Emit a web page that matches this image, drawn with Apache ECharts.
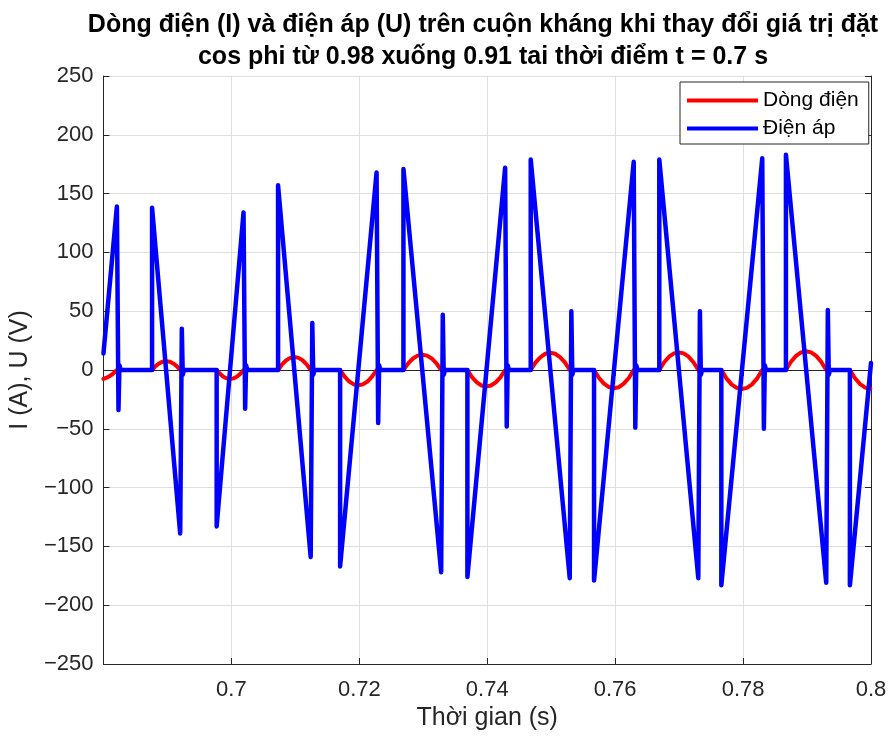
<!DOCTYPE html>
<html>
<head>
<meta charset="utf-8">
<script src="https://cdn.jsdelivr.net/npm/echarts@6/dist/echarts.min.js"></script>
<style>
  html, body { margin: 0; padding: 0; background: #ffffff; }
  #chart { width: 891px; height: 738px; }
</style>
</head>
<body>
<div id="chart"></div>
<script>
// Voltage across the reactor (V): time stamps (s) and values
const voltageT = [
  0.6800, 0.6821, 0.68235, 0.6825, 0.6827,
  0.6876, 0.6876, 0.6920, 0.69225, 0.6924, 0.6926,
  0.6977, 0.6977, 0.7019, 0.70215, 0.7023, 0.7025,
  0.7073, 0.7073, 0.7124, 0.71265, 0.7128, 0.7130,
  0.7170, 0.7170, 0.7227, 0.72295, 0.7231, 0.7233,
  0.7269, 0.7269, 0.7328, 0.73305, 0.7332, 0.7334,
  0.7369, 0.7369, 0.7428, 0.74305, 0.7432, 0.7434,
  0.7468, 0.7468, 0.7529, 0.75315, 0.7533, 0.7535,
  0.7567, 0.7567, 0.7629, 0.76315, 0.7633, 0.7635,
  0.7669, 0.7669, 0.7730, 0.77325, 0.7734, 0.7736,
  0.7766, 0.7766, 0.7830, 0.78325, 0.7834, 0.7836,
  0.7867, 0.7867, 0.7930, 0.79325, 0.7934, 0.7936,
  0.7967, 0.7967, 0.8000
];
const voltageV = [
  14, 139, -34, 4, 0,
  0, 138, -139, 35, -4, 0,
  0, -133, 134, -33, 4, 0,
  0, 157, -159, 40, -4, 0,
  0, -167, 168, -45, 4, 0,
  0, 171, -172, 47, -4, 0,
  0, -176, 172, -48, 4, 0,
  0, 179, -177, 50, -4, 0,
  0, -179, 177, -49, 4, 0,
  0, 179, -177, 50, -4, 0,
  0, -183, 180, -50, 4, 0,
  0, 183, -181, 51, -4, 0,
  0, -183, 6
];

// Reactor current (A): time stamps (s) and values, one arch per conduction interval
const currentT = [
  0.6800, 0.6807, 0.6814, 0.6821,
  0.6876, 0.68815, 0.6887, 0.68925, 0.6898, 0.69035, 0.6909, 0.69145, 0.6920,
  0.6977, 0.69823, 0.69875, 0.69928, 0.6998, 0.70033, 0.70085, 0.70138, 0.7019,
  0.7073, 0.70794, 0.70858, 0.70921, 0.70985, 0.71049, 0.71113, 0.71176, 0.7124,
  0.7170, 0.71771, 0.71843, 0.71914, 0.71985, 0.72056, 0.72128, 0.72199, 0.7227,
  0.7269, 0.72764, 0.72838, 0.72911, 0.72985, 0.73059, 0.73133, 0.73206, 0.7328,
  0.7369, 0.73764, 0.73838, 0.73911, 0.73985, 0.74059, 0.74133, 0.74206, 0.7428,
  0.7468, 0.74756, 0.74833, 0.74909, 0.74985, 0.75061, 0.75138, 0.75214, 0.7529,
  0.7567, 0.75748, 0.75825, 0.75903, 0.7598, 0.76058, 0.76135, 0.76213, 0.7629,
  0.7669, 0.76766, 0.76843, 0.76919, 0.76995, 0.77071, 0.77148, 0.77224, 0.7730,
  0.7766, 0.7774, 0.7782, 0.7790, 0.7798, 0.7806, 0.7814, 0.7822, 0.7830,
  0.7867, 0.78749, 0.78828, 0.78906, 0.78985, 0.79064, 0.79143, 0.79221, 0.7930,
  0.7967, 0.7975, 0.7983, 0.7991, 0.7999, 0.8000
];
const currentV = [
  -7.6, -6.1, -3.6, 0,
  0, 3.3, 5.6, 7.1, 7.5, 7.1, 5.6, 3.3, 0,
  0, -3.3, -5.7, -7.1, -7.6, -7.1, -5.7, -3.3, 0,
  0, 4.8, 8.3, 10.3, 11, 10.3, 8.3, 4.8, 0,
  0, -5.7, -9.8, -12.2, -13, -12.2, -9.8, -5.7, 0,
  0, 5.7, 9.8, 12.2, 13, 12.2, 9.8, 5.7, 0,
  0, -6.2, -10.5, -13.2, -14, -13.2, -10.5, -6.2, 0,
  0, 6.5, 11, 13.8, 14.7, 13.8, 11, 6.5, 0,
  0, -6.8, -11.6, -14.6, -15.5, -14.6, -11.6, -6.8, 0,
  0, 6.6, 11.3, 14.1, 15, 14.1, 11.3, 6.6, 0,
  0, -7.1, -12.2, -15.2, -16.2, -15.2, -12.2, -7.1, 0,
  0, 7, 12, 15, 16, 15, 12, 7, 0,
  0, -7, -12, -15, -16, -16
];

// Axis settings
const xMin = 0.68, xMax = 0.8, xStep = 0.02;
const yMin = -250, yMax = 250, yStep = 50;

const seriesNames = ['Dòng điện', 'Điện áp'];
const titleText = 'Dòng điện (I) và điện áp (U) trên cuộn kháng khi thay đổi giá trị đặt\ncos phi từ 0.98 xuống 0.91 tai thời điểm t = 0.7 s';
const xName = 'Thời gian (s)';
const yName = 'I (A), U (V)';

const pairs = (ts, vs) => ts.map((t, i) => [t, vs[i]]);
const minusFmt = v => (v < 0 ? '\u2212' + Math.abs(v) : String(v));

const FONT = "'Liberation Sans', Arial, Helvetica, sans-serif";
const AX = '#262626';
const GRID = '#dfdfdf';

const chart = echarts.init(document.getElementById('chart'), null, { renderer: 'canvas' });

const boxAxis = {
  axisLine: { show: true, lineStyle: { color: AX, width: 1 } },
  axisTick: { show: true, inside: true, length: 6, lineStyle: { color: AX } },
  axisLabel: { show: false },
  splitLine: { show: false }
};

chart.setOption({
  backgroundColor: '#ffffff',
  animation: false,
  title: {
    text: titleText,
    left: 478,
    top: 4,
    textAlign: 'center',
    textStyle: {
      fontFamily: FONT,
      fontSize: 25,
      fontWeight: 'bold',
      color: '#000000',
      lineHeight: 32
    }
  },
  legend: {
    orient: 'vertical',
    left: 680,
    top: 82,
    padding: [8, 10, 5, 7],
    itemWidth: 71,
    itemHeight: 4,
    itemGap: 7,
    backgroundColor: '#ffffff',
    borderColor: AX,
    borderWidth: 1,
    borderRadius: 0,
    textStyle: { fontFamily: FONT, fontSize: 21, color: '#000000' },
    data: [
      { name: seriesNames[0], icon: 'rect' },
      { name: seriesNames[1], icon: 'rect' }
    ]
  },
  grid: { left: 103, right: 20, top: 76, bottom: 74, containLabel: false },
  xAxis: [
    {
      type: 'value',
      min: xMin, max: xMax, interval: xStep,
      position: 'bottom',
      name: xName,
      nameLocation: 'middle',
      nameGap: 41,
      nameTextStyle: { fontFamily: FONT, fontSize: 25, color: AX },
      axisLine: { show: true, onZero: false, lineStyle: { color: AX, width: 1 } },
      axisTick: { show: true, inside: true, length: 6, lineStyle: { color: AX } },
      axisLabel: {
        fontFamily: FONT, fontSize: 22, color: AX, margin: 15,
        showMinLabel: false, showMaxLabel: true,
        formatter: v => String(parseFloat(v.toFixed(2)))
      },
      splitLine: { show: true, lineStyle: { color: GRID, width: 1 } }
    },
    Object.assign({ type: 'value', min: xMin, max: xMax, interval: xStep, position: 'top' }, boxAxis)
  ],
  yAxis: [
    {
      type: 'value',
      min: yMin, max: yMax, interval: yStep,
      position: 'left',
      name: yName,
      nameLocation: 'middle',
      nameGap: 68,
      nameTextStyle: { fontFamily: FONT, fontSize: 25, color: AX },
      axisLine: { show: true, onZero: false, lineStyle: { color: AX, width: 1 } },
      axisTick: { show: true, inside: true, length: 6, lineStyle: { color: AX } },
      axisLabel: { fontFamily: FONT, fontSize: 22, color: AX, margin: 10, formatter: minusFmt },
      splitLine: { show: true, lineStyle: { color: GRID, width: 1 } }
    },
    Object.assign({ type: 'value', min: yMin, max: yMax, interval: yStep, position: 'right' }, boxAxis)
  ],
  series: [
    {
      name: seriesNames[0],
      type: 'line',
      xAxisIndex: 0, yAxisIndex: 0,
      data: pairs(currentT, currentV),
      showSymbol: false,
      color: '#ff0000',
      lineStyle: { color: '#ff0000', width: 4, cap: 'round', join: 'round' },
      z: 2
    },
    {
      name: seriesNames[1],
      type: 'line',
      xAxisIndex: 0, yAxisIndex: 0,
      data: pairs(voltageT, voltageV),
      showSymbol: false,
      color: '#0000ff',
      lineStyle: { color: '#0000ff', width: 4.5, cap: 'round', join: 'round' },
      z: 3
    }
  ]
});
</script>
</body>
</html>
